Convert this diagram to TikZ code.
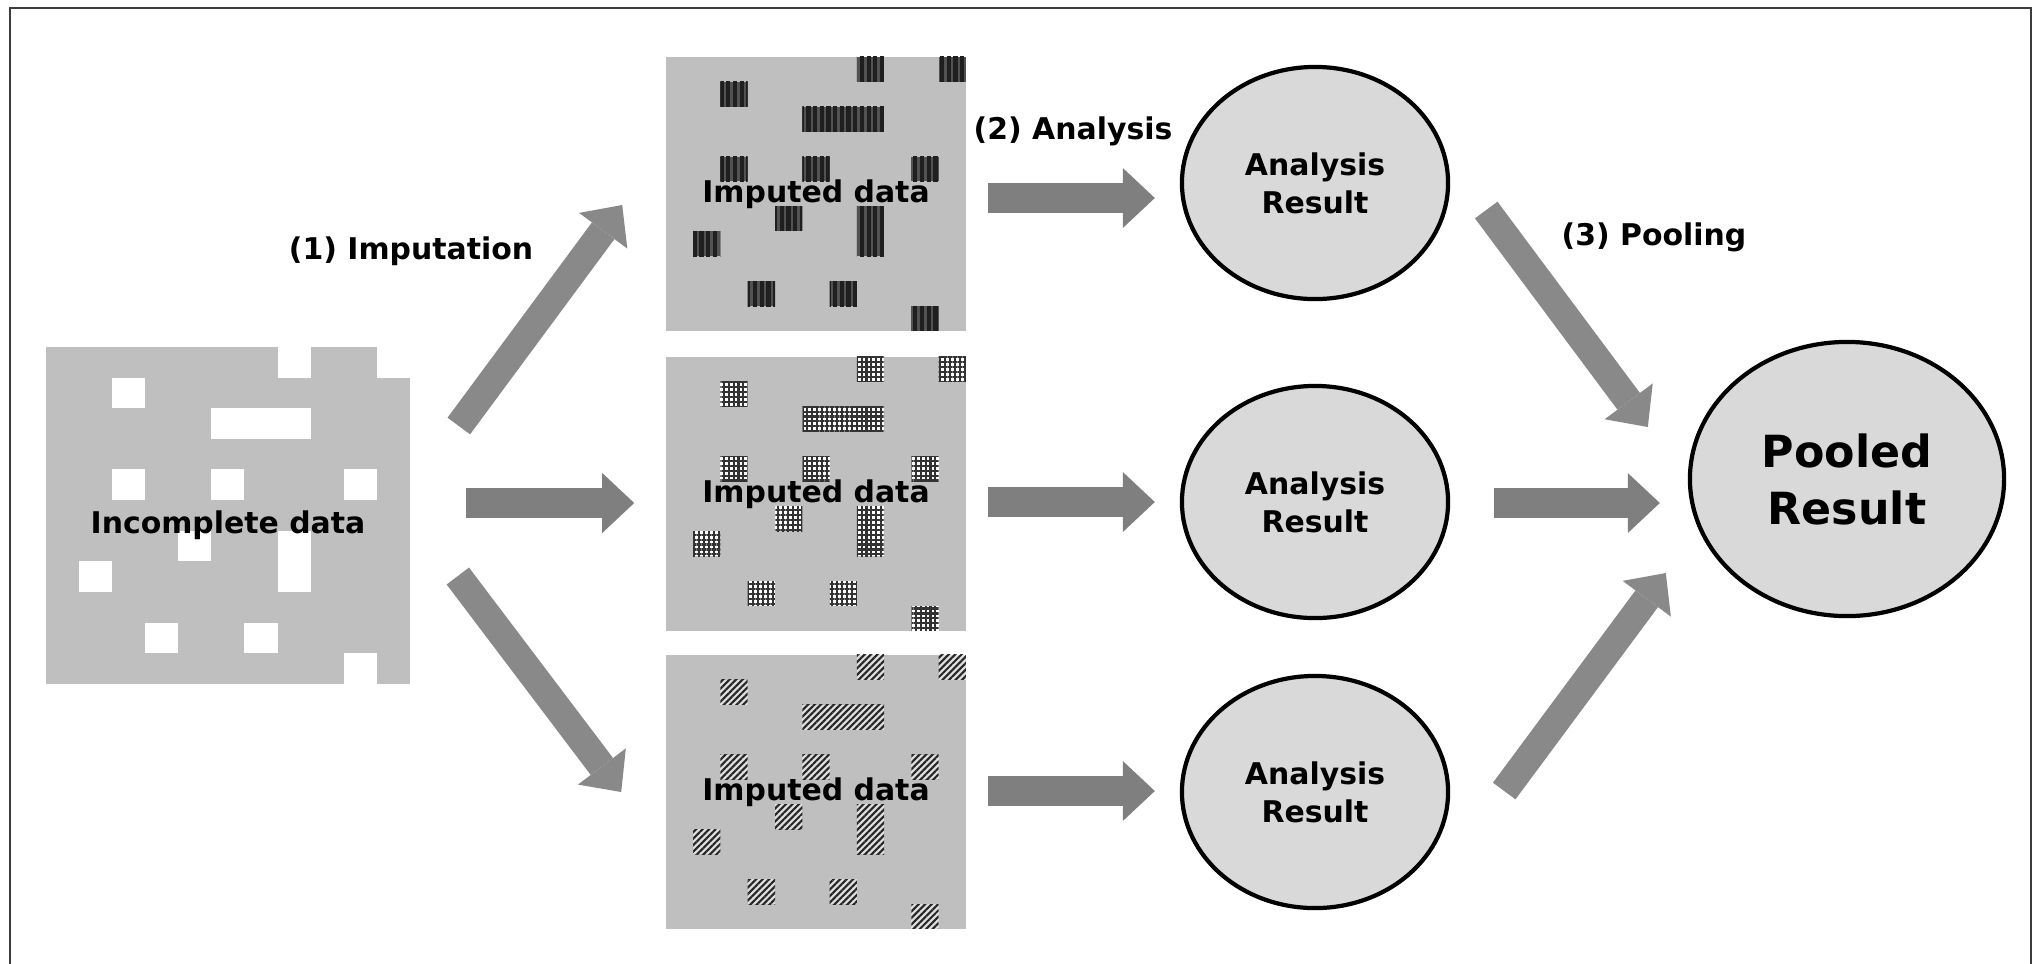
\documentclass[tikz,border=0pt]{standalone}
\usepackage{fontspec}
\setmainfont{DejaVu Sans}
\usepackage{xcolor}
\definecolor{blockgray}{RGB}{191,191,191}
\definecolor{resgray}{RGB}{217,217,217}
\definecolor{arrowgray}{RGB}{127,127,127}
\definecolor{arrowlight}{RGB}{137,137,137}
\definecolor{framegray}{RGB}{60,60,60}
\usepackage{tikz}
\usetikzlibrary{shapes.geometric, arrows.meta, positioning, calc, patterns.meta}

% cells (col/row/width/height) that are missing in the data table
\newcommand{\missingcells}{7/0/1/1, 10/0/1/1, 2/1/1/1, 5/2/3/1, 2/4/1/1, 5/4/1/1, 9/4/1/1, 4/6/1/1, 7/6/1/2, 1/7/1/1, 3/9/1/1, 6/9/1/1, 9/10/1/1}

\begin{document}
\begin{tikzpicture}[
    x=0.01cm, y=-0.01cm,
    font=\bfseries\fontsize{8.5}{10.8}\selectfont,
    blockbase/.style={rectangle, fill=blockgray, inner sep=0pt},
    incblock/.style={blockbase, minimum width=3.64cm, minimum height=3.37cm, text height=10pt, text depth=0pt,
      path picture={\foreach \ci/\ri/\wi/\hi in \missingcells
        \fill[white] ([shift={(\ci*33.09,\ri*30.64)}]path picture bounding box.north west) rectangle ++(\wi*33.09,\hi*30.64);}},
    impblock/.style={blockbase, minimum width=3cm, minimum height=2.74cm,
      path picture={\foreach \ci/\ri/\wi/\hi in \missingcells
        \path[#1] ([shift={(\ci*27.27,\ri*24.91)}]path picture bounding box.north west) rectangle ++(\wi*27.27,\hi*24.91);}},
    vcells/.style={fill=black!68, postaction={pattern={Lines[angle=90, distance=1.9pt, line width=1.2pt]}, pattern color=black!88}},
    gcells/.style={fill=white, postaction={pattern={Hatch[angle=0, distance=1.4pt, line width=0.6pt]}, pattern color=black!80}},
    dcells/.style={fill=gray!25, postaction={pattern={Lines[angle=45, distance=1.3pt, line width=0.6pt]}, pattern color=black!85}},
    resnode/.style={ellipse, draw, line width=1.2pt, fill=resgray, minimum width=2.66cm, minimum height=2.32cm, inner sep=0pt, align=center},
    poolnode/.style={resnode, minimum width=3.14cm, minimum height=2.74cm, font=\bfseries\fontsize{12.6}{16.2}\selectfont},
    bigarrow/.style={draw=arrowgray, line width=0.30cm, -{Triangle[length=0.32cm, width=0.60cm, line width=0pt]}},
    diagarrow/.style={bigarrow, draw=arrowlight, line width=0.28cm}
  ]
  \useasboundingbox (0,0) rectangle (2040,963);
  \draw[framegray, line width=0.55pt] (10,975) -- (10,8) -- (2031,8) -- (2031,975);

  \node (inc) [incblock] at (228,515.5) {Incomplete data};
  \node (imp1) [impblock=vcells] at (816,194) {Imputed data};
  \node (imp2) [impblock=gcells] at (816,494) {Imputed data};
  \node (imp3) [impblock=dcells] at (816,792) {Imputed data};

  \node (res1) [resnode] at (1315,183) {Analysis\\Result};
  \node (res2) [resnode] at (1315,502) {Analysis\\Result};
  \node (res3) [resnode] at (1315,792) {Analysis\\Result};
  \node (pool) [poolnode] at (1847,479) {Pooled\\Result};

  \node (implbl) at (411,251) {(1) Imputation};
  \node (analbl) at (1073,131) {(2) Analysis};
  \node (poollbl) at (1654,237) {(3) Pooling};

  \draw[diagarrow] ([shift={(48,-89.5)}]inc.east) -- ([shift={(-43,11)}]imp1.west);
  \draw[bigarrow] ([shift={(55,-12.5)}]inc.east) -- ([shift={(-31,9)}]imp2.west);
  \draw[diagarrow] ([shift={(47,60.5)}]inc.east) -- ([shift={(-44,0)}]imp3.west);

  \draw[bigarrow] ([shift={(21,4)}]imp1.east) -- ([shift={(-25,15)}]res1.west);
  \draw[bigarrow] ([shift={(21,8)}]imp2.east) -- ([shift={(-25,0)}]res2.west);
  \draw[bigarrow] ([shift={(21,-1)}]imp3.east) -- ([shift={(-25,-1)}]res3.west);

  \draw[diagarrow] ([shift={(36,27)}]res1.east) -- ([shift={(-40,-52)}]pool.west);
  \draw[bigarrow] ([shift={(44,1)}]res2.east) -- ([shift={(-28,24)}]pool.west);
  \draw[diagarrow] ([shift={(54,-1)}]res3.east) -- ([shift={(-22,94)}]pool.west);

\end{tikzpicture}
\end{document}
